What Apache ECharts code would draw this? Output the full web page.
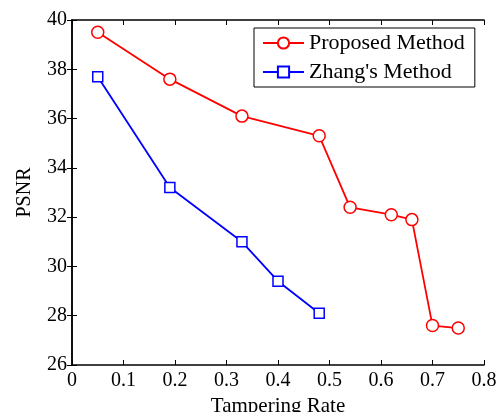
<!DOCTYPE html>
<html>
<head>
<meta charset="utf-8">
<script src="https://cdn.jsdelivr.net/npm/echarts@6/dist/echarts.min.js"></script>
<style>
  html, body { margin: 0; padding: 0; background: #fff; }
  #main { width: 504px; height: 412px; }
</style>
</head>
<body>
<div id="main"></div>
<script>
var proposedX = [0.05, 0.19, 0.33, 0.48, 0.54, 0.62, 0.66, 0.70, 0.75];
var proposedY = [39.5, 37.6, 36.1, 35.3, 32.4, 32.1, 31.9, 27.6, 27.5];
var zhangX = [0.05, 0.19, 0.33, 0.40, 0.48];
var zhangY = [37.7, 33.2, 31.0, 29.4, 28.1];

var font = 'Liberation Serif';

function pairs(xs, ys) {
    return xs.map(function (x, i) { return [x, ys[i]]; });
}

var chart = echarts.init(document.getElementById('main'));

var frameAxis = {
    axisLine: { show: true, lineStyle: { color: '#000', width: 1.5 } },
    axisTick: { show: true, inside: true, length: 5, lineStyle: { color: '#000' } },
    splitLine: { show: false }
};

var option = {
    animation: false,
    backgroundColor: '#fff',
    grid: { left: 72, top: 20, right: 20, bottom: 47, outerBoundsMode: 'none', containLabel: false },
    legend: {
        orient: 'vertical',
        left: 254,
        top: 28,
        width: 222,
        padding: [4, 10, 4, 8],
        borderColor: '#000',
        borderWidth: 1,
        itemWidth: 41,
        itemHeight: 14,
        itemGap: 7,
        textStyle: { fontFamily: font, fontSize: 22, color: '#000' },
        data: ['Proposed Method', "Zhang's Method"]
    },
    xAxis: [
        Object.assign({
            type: 'value', min: 0, max: 0.8, interval: 0.1,
            name: 'Tampering Rate', nameLocation: 'middle', nameGap: 28,
            nameTextStyle: { fontFamily: font, fontSize: 21, color: '#000' },
            axisLabel: { fontFamily: font, fontSize: 20, color: '#000', margin: 6 }
        }, frameAxis),
        Object.assign({
            type: 'value', min: 0, max: 0.8, interval: 0.1, position: 'top',
            axisLabel: { show: false }
        }, frameAxis)
    ],
    yAxis: [
        Object.assign({
            type: 'value', min: 26, max: 40, interval: 2,
            name: 'PSNR', nameLocation: 'middle', nameGap: 37,
            nameTextStyle: { fontFamily: font, fontSize: 20, color: '#000' },
            axisLabel: { fontFamily: font, fontSize: 20, color: '#000', margin: 5 }
        }, frameAxis),
        Object.assign({
            type: 'value', min: 26, max: 40, interval: 2, position: 'right',
            axisLabel: { show: false }
        }, frameAxis)
    ],
    series: [
        {
            name: 'Proposed Method',
            type: 'line',
            data: pairs(proposedX, proposedY),
            symbol: 'circle',
            symbolSize: 12,
            itemStyle: { color: '#fff', borderColor: '#ff0000', borderWidth: 1.5 },
            lineStyle: { color: '#ff0000', width: 1.8 },
            color: '#ff0000'
        },
        {
            name: "Zhang's Method",
            type: 'line',
            data: pairs(zhangX, zhangY),
            symbol: 'rect',
            symbolSize: 10,
            itemStyle: { color: '#fff', borderColor: '#0000ff', borderWidth: 1.5 },
            lineStyle: { color: '#0000ff', width: 1.8 },
            color: '#0000ff'
        }
    ]
};

chart.setOption(option);
</script>
</body>
</html>
